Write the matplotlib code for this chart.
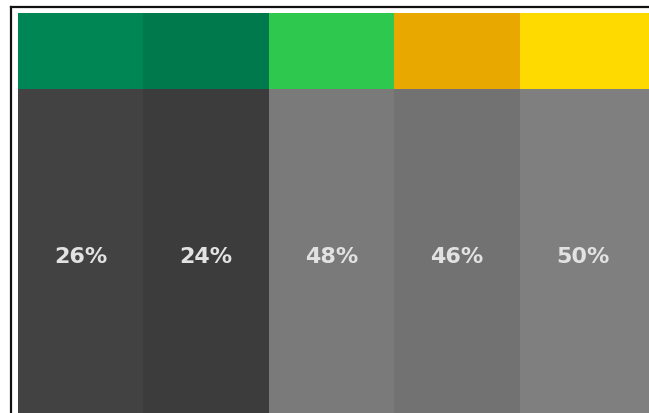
import matplotlib
matplotlib.use("Agg")
import matplotlib.pyplot as plt
from matplotlib.lines import Line2D

# Data
categories = ["A", "B", "C", "D", "E"]
values = [26, 24, 48, 46, 50]
top_colors = ["#008555", "#007A4C", "#2DC84D", "#E9A800", "#FFDA00"]
base_colors = ["#424242", "#3C3C3C", "#7A7A7A", "#727272", "#7F7F7F"]

W, H = 649, 414
fig = plt.figure(figsize=(W / 100, H / 100), dpi=100)
fig.patch.set_facecolor("white")

# Outer frame (only left and top edges visible; rest cropped)
fx, fy = 10.5 / W, 1 - 7.5 / H
fig.add_artist(Line2D([fx, fx], [-0.05, fy], transform=fig.transFigure,
                      color="#111111", linewidth=1.6))
fig.add_artist(Line2D([fx, 1.05], [fy, fy], transform=fig.transFigure,
                      color="#111111", linewidth=1.6))

extra = 10  # px below the figure edge
ax = fig.add_axes([18 / W, -extra / H, 1 - 18 / W, (H - 14 + extra) / H])
ax.set_axis_off()

x = list(range(len(categories)))
widths = [1, 1, 1, 1, 1.2]
lefts = [xi - 0.5 for xi in x]
top_h = 75.5 / 400
ax.bar(lefts, [1.2 - top_h] * len(x), bottom=top_h, width=widths,
       color=base_colors, linewidth=0, align="edge")
ax.bar(lefts, [top_h] * len(x), bottom=0, width=widths,
       color=top_colors, linewidth=0, align="edge")

for xi, v in zip(x, values):
    ax.text(xi, (257 - 14) / 400, f"{v}%", ha="center", va="center",
            color="#E2E2E2", fontsize=16, fontweight="bold",
            family="DejaVu Sans")

ax.set_xlim(-0.5, 4.53)
ax.set_ylim(1 + extra / 400, 0)

fig.savefig("out.png", dpi=100, facecolor="white")
